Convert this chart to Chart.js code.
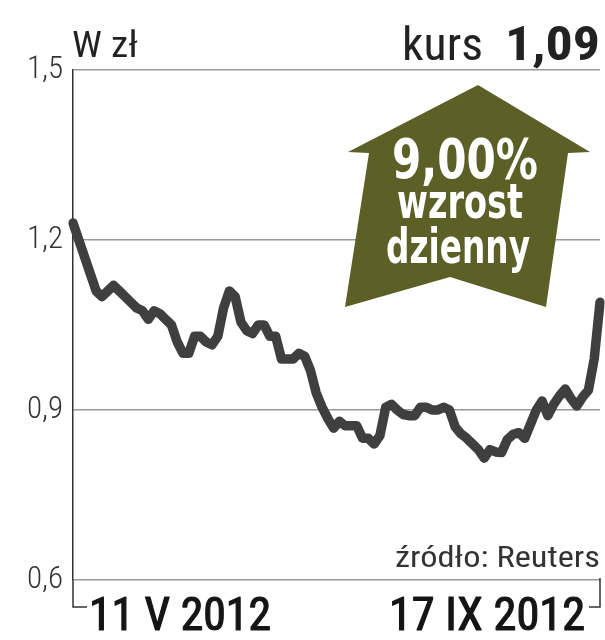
<!DOCTYPE html>
<html>
<head>
<meta charset="utf-8">
<script src="https://cdn.jsdelivr.net/npm/chart.js@4/dist/chart.umd.min.js"></script>
<style>
html,body{margin:0;padding:0;background:#fff;}
#c{display:block;}
</style>
</head>
<body>
<canvas id="c" width="605" height="640"></canvas>
<script>
// ---- data ----
const startLabel = "11 V 2012";
const endLabel = "17 IX 2012";
const prices = [
 1.23,1.20,1.17,1.14,1.11,1.10,1.11,1.12,1.11,1.10,
 1.09,1.08,1.075,1.06,1.075,1.07,1.06,1.05,1.02,1.00,
 1.00,1.03,1.03,1.02,1.015,1.03,1.08,1.11,1.10,1.055,
 1.04,1.035,1.05,1.05,1.03,1.03,0.99,0.99,0.99,1.00,
 0.995,0.97,0.93,0.905,0.885,0.868,0.88,0.872,0.872,0.872,
 0.85,0.85,0.84,0.855,0.905,0.91,0.90,0.892,0.89,0.89,
 0.905,0.905,0.90,0.90,0.905,0.90,0.87,0.858,0.85,0.84,
 0.83,0.815,0.83,0.826,0.825,0.848,0.857,0.86,0.85,0.875,
 0.90,0.916,0.89,0.91,0.925,0.937,0.92,0.907,0.923,0.935,
 0.99,1.09
];
const dayIndex = prices.map((_, i) => i);
const yTicks = [0.6, 0.9, 1.2, 1.5];
const unitLabel = "w zł";
const kursLabel = "kurs";
const kursValue = "1,09";
const changeLines = ["9,00%", "wzrost", "dzienny"];
const sourceLabel = "źródło: Reuters";

const NARROW = '"Liberation Sans Narrow", "Roboto Condensed", Roboto, "Liberation Sans", sans-serif';

function fitText(ctx, text, x, y, w, align, strokeW) {
  const m = ctx.measureText(text).width;
  const sx = w / m;
  ctx.save();
  let left = x;
  if (align === 'center') left = x - w / 2;
  else if (align === 'right') left = x - w;
  ctx.translate(left, y);
  ctx.scale(sx, 1);
  ctx.textAlign = 'left';
  ctx.fillText(text, 0, 0);
  if (strokeW) {
    ctx.strokeStyle = ctx.fillStyle;
    ctx.lineWidth = strokeW;
    ctx.lineJoin = 'round';
    ctx.strokeText(text, 0, 0);
  }
  ctx.restore();
}

const decor = {
  id: 'decor',
  beforeDatasetsDraw(chart) {
    const ctx = chart.ctx;
    ctx.save();
    ctx.fillStyle = '#5b6026';
    ctx.beginPath();
    ctx.moveTo(478, 85);
    ctx.lineTo(590, 152);
    ctx.lineTo(568, 153);
    ctx.lineTo(546, 307);
    ctx.lineTo(450, 277);
    ctx.lineTo(345, 307);
    ctx.lineTo(369, 153);
    ctx.lineTo(348, 152);
    ctx.closePath();
    ctx.fill();
    ctx.fillStyle = '#ffffff';
    ctx.textBaseline = 'alphabetic';
    ctx.font = 'bold 56px "DejaVu Sans", Roboto, sans-serif';
    fitText(ctx, changeLines[0], 465, 178, 146, 'center');
    ctx.font = 'bold 48px "DejaVu Sans", Roboto, sans-serif';
    fitText(ctx, changeLines[1], 460, 218, 126, 'center');
    fitText(ctx, changeLines[2], 458, 263, 144, 'center');
    ctx.restore();
  },
  afterDraw(chart) {
    const ctx = chart.ctx;
    const a = chart.chartArea;
    const xs = chart.scales.x;
    const x0 = xs.getPixelForValue(0);
    const x1 = xs.getPixelForValue(prices.length - 1);
    ctx.save();
    ctx.strokeStyle = '#333';
    ctx.lineWidth = 1.5;
    ctx.beginPath();
    ctx.moveTo(a.left, a.bottom);
    ctx.lineTo(a.left, a.bottom + 27);
    ctx.lineTo(a.left + 14, a.bottom + 27);
    ctx.moveTo(a.right, a.bottom - 2);
    ctx.lineTo(a.right, a.bottom + 27);
    ctx.lineTo(a.right - 11, a.bottom + 27);
    ctx.stroke();
    ctx.fillStyle = '#151515';
    ctx.font = '46px ' + NARROW;
    fitText(ctx, startLabel, x0 + 16, 630, 182, 'left', 1.2);
    fitText(ctx, endLabel, x1 - 15, 630, 196, 'right', 1.2);
    ctx.fillStyle = '#222';
    ctx.font = '36px ' + NARROW;
    fitText(ctx, unitLabel.charAt(0).toUpperCase() + unitLabel.slice(1), 72, 57, 66, 'left');
    ctx.font = '47px ' + NARROW;
    fitText(ctx, kursLabel, 402, 60, 81, 'left');
    ctx.font = 'bold 49px ' + NARROW;
    fitText(ctx, kursValue, 600, 60, 95, 'right');
    ctx.fillStyle = '#333';
    ctx.font = '29px ' + NARROW;
    fitText(ctx, sourceLabel, 600, 567, 205, 'right');
    ctx.restore();
  }
};

new Chart(document.getElementById('c'), {
  type: 'line',
  data: {
    labels: dayIndex,
    datasets: [{
      data: prices,
      borderColor: '#3f3f3f',
      borderWidth: 9.5,
      pointRadius: 0,
      tension: 0,
      borderJoinStyle: 'round',
      borderCapStyle: 'round',
      fill: false
    }]
  },
  options: {
    responsive: false,
    animation: false,
    devicePixelRatio: 1,
    layout: { padding: { left: 0, top: 70, right: 5, bottom: 60 } },
    plugins: { legend: { display: false }, tooltip: { enabled: false } },
    scales: {
      x: { display: false, offset: false },
      y: {
        min: 0.6, max: 1.5,
        afterBuildTicks(s) { s.ticks = yTicks.map(v => ({ value: v })); },
        afterFit(s) { s.width = 73; },
        border: { display: true, color: '#333', width: 1.5 },
        grid: { color: '#9a9a9a', lineWidth: 1.5, drawTicks: false },
        ticks: {
          padding: 10,
          color: '#333',
          font: { family: NARROW, size: 31, weight: '300' },
          callback: v => v.toFixed(1).replace('.', ',')
        }
      }
    }
  },
  plugins: [decor]
});
</script>
</body>
</html>
